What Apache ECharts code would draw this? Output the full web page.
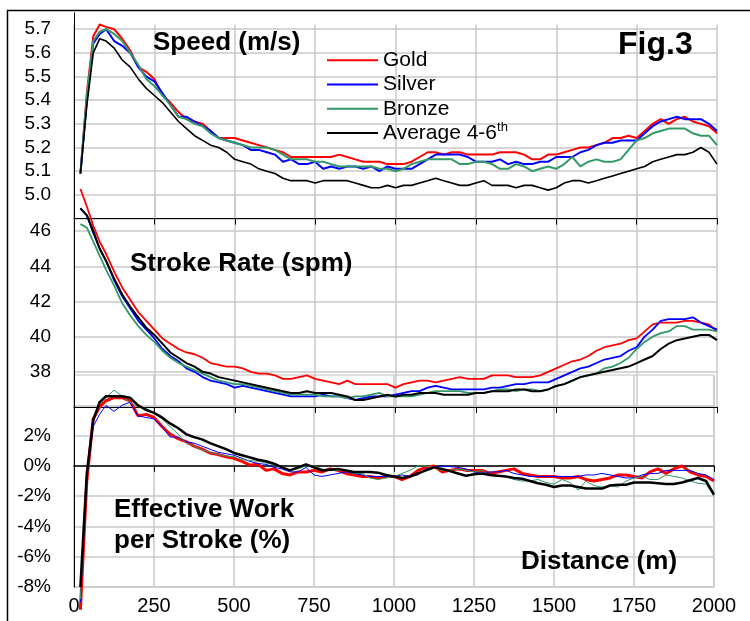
<!DOCTYPE html>
<html>
<head>
<meta charset="utf-8">
<title>Fig.3</title>
<script src="https://cdn.jsdelivr.net/npm/echarts@6/dist/echarts.min.js"></script>
<style>
  html, body { margin: 0; padding: 0; background: #fff; }
  #chart { width: 750px; height: 621px; }
</style>
</head>
<body>
<div id="chart"></div>
<script>
// distance along the race (m)
var distance = [
  20, 40, 60, 80, 100, 125, 150, 175, 200, 225,
  250, 275, 300, 325, 350, 375, 400, 425, 450, 475,
  500, 525, 550, 575, 600, 625, 650, 675, 700, 725,
  750, 775, 800, 825, 850, 875, 900, 925, 950, 975,
  1000, 1025, 1050, 1075, 1100, 1125, 1150, 1175, 1200, 1225,
  1250, 1275, 1300, 1325, 1350, 1375, 1400, 1425, 1450, 1475,
  1500, 1525, 1550, 1575, 1600, 1625, 1650, 1675, 1700, 1725,
  1750, 1775, 1800, 1825, 1850, 1875, 1900, 1925, 1950, 1975,
  2000
];

// speed (m/s)
var speedGold = [
  5.09, 5.43, 5.67, 5.72, 5.71, 5.70, 5.66, 5.61, 5.54, 5.52,
  5.49, 5.42, 5.39, 5.35, 5.32, 5.31, 5.30, 5.27, 5.24, 5.24,
  5.24, 5.23, 5.22, 5.21, 5.20, 5.19, 5.18, 5.16, 5.16, 5.16,
  5.16, 5.16, 5.16, 5.17, 5.16, 5.15, 5.14, 5.14, 5.14, 5.13,
  5.13, 5.13, 5.14, 5.16, 5.18, 5.18, 5.17, 5.18, 5.18, 5.17,
  5.17, 5.17, 5.17, 5.18, 5.18, 5.18, 5.17, 5.15, 5.15, 5.17,
  5.17, 5.18, 5.19, 5.20, 5.20, 5.21, 5.22, 5.24, 5.24, 5.25,
  5.24, 5.27, 5.30, 5.32, 5.30, 5.32, 5.33, 5.31, 5.30, 5.29,
  5.26
];
var speedSilver = [
  5.09, 5.40, 5.64, 5.68, 5.70, 5.65, 5.63, 5.60, 5.54, 5.50,
  5.48, 5.43, 5.38, 5.33, 5.33, 5.31, 5.29, 5.27, 5.24, 5.23,
  5.22, 5.21, 5.19, 5.19, 5.18, 5.17, 5.14, 5.15, 5.13, 5.13,
  5.14, 5.11, 5.12, 5.11, 5.12, 5.12, 5.11, 5.12, 5.10, 5.12,
  5.11, 5.11, 5.11, 5.13, 5.15, 5.17, 5.17, 5.17, 5.17, 5.16,
  5.14, 5.14, 5.14, 5.15, 5.13, 5.14, 5.13, 5.13, 5.14, 5.14,
  5.16, 5.16, 5.16, 5.18, 5.19, 5.21, 5.22, 5.22, 5.23, 5.23,
  5.23, 5.26, 5.29, 5.31, 5.32, 5.33, 5.32, 5.32, 5.32, 5.30,
  5.27
];
var speedBronze = [
  5.09, 5.42, 5.65, 5.69, 5.70, 5.68, 5.65, 5.60, 5.55, 5.49,
  5.46, 5.42, 5.38, 5.33, 5.32, 5.30, 5.29, 5.26, 5.24, 5.23,
  5.22, 5.21, 5.20, 5.20, 5.20, 5.19, 5.17, 5.15, 5.15, 5.15,
  5.14, 5.14, 5.13, 5.12, 5.12, 5.12, 5.12, 5.12, 5.11, 5.11,
  5.10, 5.11, 5.13, 5.14, 5.15, 5.15, 5.15, 5.15, 5.13, 5.13,
  5.14, 5.14, 5.13, 5.11, 5.11, 5.13, 5.12, 5.10, 5.11, 5.12,
  5.11, 5.13, 5.16, 5.12, 5.14, 5.15, 5.14, 5.14, 5.15, 5.19,
  5.23, 5.24, 5.26, 5.27, 5.28, 5.28, 5.28, 5.26, 5.25, 5.25,
  5.21
];
var speedAvg = [
  5.09, 5.38, 5.60, 5.66, 5.65, 5.62, 5.57, 5.54, 5.49, 5.45,
  5.42, 5.39, 5.35, 5.31, 5.28, 5.25, 5.23, 5.21, 5.20, 5.18,
  5.15, 5.14, 5.13, 5.11, 5.10, 5.09, 5.07, 5.06, 5.06, 5.06,
  5.05, 5.06, 5.06, 5.06, 5.06, 5.05, 5.04, 5.03, 5.03, 5.04,
  5.03, 5.04, 5.04, 5.05, 5.06, 5.07, 5.06, 5.05, 5.04, 5.04,
  5.05, 5.06, 5.04, 5.04, 5.04, 5.03, 5.04, 5.04, 5.03, 5.02,
  5.03, 5.05, 5.06, 5.06, 5.05, 5.06, 5.07, 5.08, 5.09, 5.10,
  5.11, 5.12, 5.14, 5.15, 5.16, 5.17, 5.17, 5.18, 5.20, 5.18,
  5.13
];

// stroke rate (spm)
var rateGold = [
  48.4, 47.4, 46.3, 45.4, 44.7, 43.7, 42.8, 42.1, 41.4, 40.9,
  40.4, 39.9, 39.6, 39.3, 39.1, 39.0, 38.8, 38.5, 38.4, 38.3,
  38.3, 38.2, 38.0, 37.9, 37.9, 37.8, 37.6, 37.6, 37.7, 37.8,
  37.6, 37.5, 37.4, 37.3, 37.5, 37.3, 37.3, 37.3, 37.3, 37.3,
  37.1, 37.3, 37.4, 37.5, 37.5, 37.4, 37.5, 37.6, 37.7, 37.6,
  37.6, 37.6, 37.8, 37.8, 37.8, 37.7, 37.7, 37.7, 37.8, 38.0,
  38.2, 38.4, 38.6, 38.7, 38.9, 39.2, 39.4, 39.5, 39.6, 39.8,
  39.9, 40.3, 40.7, 40.8, 40.8, 40.8, 40.9, 40.9, 40.8, 40.7,
  40.3
];
var rateSilver = [
  47.3, 46.9, 45.9, 45.0, 44.3, 43.2, 42.3, 41.6, 40.9, 40.4,
  39.9, 39.3, 38.9, 38.6, 38.2, 38.0, 37.7, 37.5, 37.4, 37.3,
  37.1, 37.2, 37.1, 37.0, 36.9, 36.8, 36.7, 36.6, 36.6, 36.6,
  36.6, 36.7, 36.6, 36.6, 36.5, 36.4, 36.5, 36.6, 36.6, 36.6,
  36.7, 36.8, 36.9, 36.9, 37.1, 37.2, 37.1, 37.0, 37.0, 37.0,
  37.0, 37.0, 37.1, 37.1, 37.2, 37.3, 37.3, 37.4, 37.4, 37.4,
  37.6, 37.8, 38.0, 38.2, 38.3, 38.5, 38.7, 38.8, 38.9, 39.2,
  39.4, 40.0, 40.4, 40.9, 41.0, 41.0, 41.0, 41.1, 40.8, 40.6,
  40.4
];
var rateBronze = [
  46.4, 46.2, 45.4, 44.6, 43.8, 42.9, 41.9, 41.2, 40.6, 40.1,
  39.7, 39.2, 38.8, 38.5, 38.3, 38.1, 37.9, 37.7, 37.5, 37.4,
  37.3, 37.3, 37.2, 37.1, 37.0, 36.9, 36.8, 36.7, 36.7, 36.7,
  36.7, 36.6, 36.6, 36.6, 36.5, 36.6, 36.6, 36.7, 36.8, 36.6,
  36.6, 36.6, 36.6, 36.7, 36.8, 36.9, 36.9, 36.9, 36.9, 36.8,
  36.8, 36.8, 36.9, 37.0, 37.0, 36.9, 37.0, 37.0, 36.9, 37.0,
  37.2, 37.3, 37.5, 37.7, 37.8, 37.9, 38.2, 38.3, 38.5, 38.8,
  39.3, 39.7, 40.0, 40.2, 40.3, 40.6, 40.6, 40.4, 40.4, 40.4,
  40.3
];
var rateAvg = [
  47.3, 46.9, 46.0, 45.0, 44.3, 43.3, 42.4, 41.7, 41.1, 40.5,
  40.1, 39.6, 39.1, 38.8, 38.5, 38.3, 38.0, 37.9, 37.7, 37.6,
  37.5, 37.4, 37.3, 37.2, 37.1, 37.0, 36.9, 36.8, 36.8, 36.9,
  36.8, 36.8, 36.8, 36.7, 36.6, 36.4, 36.4, 36.5, 36.6, 36.7,
  36.6, 36.7, 36.7, 36.8, 36.8, 36.8, 36.7, 36.7, 36.7, 36.7,
  36.8, 36.8, 36.9, 36.9, 36.9, 37.0, 37.0, 36.9, 36.9, 37.0,
  37.2, 37.3, 37.5, 37.7, 37.8, 37.9, 38.0, 38.1, 38.2, 38.3,
  38.5, 38.7, 38.9, 39.3, 39.6, 39.8, 39.9, 40.0, 40.1, 40.1,
  39.8
];

// effective work per stroke (%)
var workGold = [
  -9.5, -1.0, 3.1, 3.9, 4.3, 4.5, 4.5, 4.3, 3.3, 3.4,
  3.2, 2.6, 2.1, 1.8, 1.6, 1.3, 1.1, 0.85, 0.75, 0.6,
  0.5, 0.3, 0.05, 0.1, -0.3, -0.2, -0.5, -0.6, -0.4, -0.4,
  -0.3, -0.4, -0.2, -0.3, -0.5, -0.6, -0.7, -0.7, -0.8, -0.7,
  -0.7, -0.9, -0.7, -0.3, -0.1, 0, -0.4, -0.3, -0.2, -0.3,
  -0.3, -0.3, -0.5, -0.4, -0.3, -0.2, -0.5, -0.6, -0.7, -0.7,
  -0.7, -0.8, -0.8, -0.7, -0.9, -1.0, -0.9, -0.8, -0.6, -0.6,
  -0.7, -0.8, -0.4, -0.2, -0.5, -0.2, 0, -0.4, -0.6, -0.7,
  -1.0
];
var workSilver = [
  -9.0, -0.8, 2.6, 3.4, 4.0, 3.6, 4.0, 4.2, 3.3, 3.2,
  3.1, 2.6, 1.9, 1.9, 1.6, 1.5, 1.3, 1.1, 0.9, 0.8,
  0.7, 0.5, 0.3, 0.15, 0.1, -0.1, -0.2, -0.4, -0.4, -0.1,
  -0.6, -0.7, -0.6, -0.5, -0.4, -0.5, -0.6, -0.7, -0.7, -0.7,
  -0.7, -0.6, -0.7, -0.6, -0.2, -0.1, 0, -0.05, -0.1, -0.2,
  -0.4, -0.5, -0.4, -0.4, -0.3, -0.5, -0.6, -0.7, -0.7, -0.7,
  -0.7, -0.7, -0.7, -0.7, -0.6, -0.6, -0.5, -0.6, -0.7, -0.8,
  -0.8, -0.6, -0.5, -0.5, -0.3, -0.3, -0.3, -0.3, -0.5, -0.6,
  -0.9
];
var workBronze = [
  -8.8, -0.6, 3.0, 4.1, 4.5, 5.0, 4.6, 4.2, 3.9, 3.8,
  3.5, 3.1, 2.6, 2.1, 1.5, 1.3, 1.05, 0.9, 0.75, 0.65,
  0.6, 0.4, 0.35, 0.3, 0.2, 0.05, -0.1, -0.3, -0.2, 0,
  0, -0.2, -0.3, -0.3, -0.3, -0.5, -0.5, -0.8, -0.9, -0.8,
  -0.7, -0.5, -0.3, 0, 0, -0.1, -0.3, -0.3, -0.2, -0.3,
  -0.4, -0.3, -0.6, -0.7, -0.7, -0.9, -1.0, -1.0, -0.9, -1.1,
  -1.2, -0.9, -1.1, -1.6, -1.0, -1.3, -1.4, -1.3, -1.4, -1.0,
  -0.8, -0.7, -0.9, -0.9, -0.6, -0.7, -0.8, -1.0, -1.15, -1.2,
  -2.0
];
var workAvg = [
  -8.0, -0.5, 3.0, 4.2, 4.6, 4.6, 4.6, 4.5, 4.0, 3.7,
  3.5, 3.2, 2.8, 2.5, 2.1, 1.9, 1.75, 1.5, 1.3, 1.1,
  0.85, 0.7, 0.55, 0.4, 0.3, 0.15, -0.1, -0.3, -0.1, 0.1,
  -0.1, -0.3, -0.25, -0.2, -0.3, -0.4, -0.4, -0.4, -0.45, -0.6,
  -0.7, -0.8, -0.7, -0.5, -0.3, -0.1, -0.2, -0.35, -0.5, -0.65,
  -0.55, -0.5, -0.6, -0.65, -0.7, -0.8, -0.85, -1.0, -1.15, -1.25,
  -1.4, -1.3, -1.3, -1.4, -1.5, -1.5, -1.5, -1.3, -1.25, -1.25,
  -1.1, -1.1, -1.1, -1.15, -1.2, -1.2, -1.1, -0.95, -0.8, -1.0,
  -1.9
];

var seriesNames = ['Gold', 'Silver', 'Bronze', 'Average 4-6th'];
var seriesColors = ['#ff0000', '#0000ff', '#339966', '#000000'];

var font = "'Liberation Sans', Arial, Helvetica, sans-serif";
var gridColor = '#c8c8c8';

function pairs(values) {
  return values.map(function (v, i) {
    return [distance[i], v];
  });
}

function line(k, values, panel, width) {
  return {
    name: seriesNames[k],
    type: 'line',
    xAxisIndex: panel,
    yAxisIndex: panel,
    data: pairs(values),
    symbol: 'none',
    clip: false,
    itemStyle: { color: seriesColors[k] },
    lineStyle: { color: seriesColors[k], width: width }
  };
}

function xAxisFor(grid, opts) {
  return Object.assign({
    type: 'value',
    gridIndex: grid,
    min: 0,
    max: 2000,
    interval: 250,
    axisLine: { show: true, onZero: false, lineStyle: { color: '#000', width: 1 } },
    axisTick: { show: true, length: 6, lineStyle: { color: '#000' } },
    axisLabel: { show: false },
    splitLine: { show: true, lineStyle: { color: gridColor, width: 1.5 } }
  }, opts);
}

function yAxisFor(grid, min, max, interval, fmt) {
  return {
    type: 'value',
    gridIndex: grid,
    min: min,
    max: max,
    interval: interval,
    axisLine: { show: true, lineStyle: { color: '#000', width: 1 } },
    axisTick: { show: false },
    axisLabel: { color: '#000', fontSize: 19, fontFamily: font, margin: 23, formatter: fmt },
    splitLine: { show: true, showMaxLine: false, lineStyle: { color: gridColor, width: 1.5 } }
  };
}

function title(text, x, y, size) {
  return {
    type: 'text',
    x: x,
    y: y,
    z: 50,
    style: {
      text: text,
      font: 'bold ' + size + 'px ' + font,
      fill: '#000',
      verticalAlign: 'middle'
    }
  };
}

var chart = echarts.init(document.getElementById('chart'));
chart.setOption({
  animation: false,
  backgroundColor: '#fff',
  grid: [
    { left: 74, top: 24.5, width: 643, height: 194 },
    { left: 74, top: 196, width: 643, height: 211 },
    { left: 74, top: 375, width: 640, height: 212, show: true, borderColor: '#c0c0c0', borderWidth: 1 }
  ],
  xAxis: [
    xAxisFor(0),
    xAxisFor(1),
    xAxisFor(2, {
      axisLine: { show: false, onZero: false },
      axisTick: { show: false },
      axisLabel: {
        show: true, color: '#000', fontSize: 20, fontFamily: font, margin: 9,
        formatter: function (v) { return String(v); }
      }
    }),
    xAxisFor(2, {
      position: 'bottom',
      axisLine: { show: true, onZero: true, lineStyle: { color: '#000', width: 1.5 } },
      splitLine: { show: false }
    })
  ],
  yAxis: [
    yAxisFor(0, 4.9, 5.72, 0.1, function (v) {
      return v > 4.95 && v < 5.71 ? v.toFixed(1) : '';
    }),
    yAxisFor(1, 36, 48, 2, function (v) {
      return v >= 38 && v <= 46 ? String(v) : '';
    }),
    yAxisFor(2, -8, 6, 2, function (v) {
      return v <= 2 ? v + '%' : '';
    })
  ],
  legend: {
    data: seriesNames,
    orient: 'vertical',
    left: 327,
    top: 48,
    padding: 0,
    itemGap: 0,
    itemWidth: 51,
    itemHeight: 2,
    icon: 'rect',
    selectedMode: false,
    formatter: function (name) {
      return name === 'Average 4-6th' ? '{a|Average 4-6}{s|th}' : name;
    },
    textStyle: {
      color: '#000',
      fontSize: 21,
      fontFamily: font,
      lineHeight: 24.3,
      rich: {
        a: { fontSize: 21, fontFamily: font, color: '#000', lineHeight: 24.3 },
        s: { fontSize: 13, fontFamily: font, color: '#000', verticalAlign: 'top', lineHeight: 14 }
      }
    }
  },
  graphic: [
    {
      type: 'rect',
      shape: { x: 7.5, y: 10.5, width: 800, height: 700 },
      style: { fill: 'none', stroke: '#000', lineWidth: 1.5 },
      silent: true
    },
    {
      type: 'line',
      shape: { x1: 74.5, y1: 12.5, x2: 74.5, y2: 25 },
      style: { stroke: '#000', lineWidth: 1 },
      silent: true
    },
    title('Speed (m/s)', 153, 43, 26),
    title('Fig.3', 618, 45, 32),
    title('Stroke Rate (spm)', 130, 264, 26),
    title('Effective Work', 114, 510, 26),
    title('per Stroke (%)', 114, 541, 26),
    title('Distance (m)', 521, 562, 26)
  ],
  series: [
    line(0, speedGold, 0, 2),
    line(1, speedSilver, 0, 2),
    line(2, speedBronze, 0, 2),
    line(3, speedAvg, 0, 1.6),

    line(0, rateGold, 1, 1.8),
    line(1, rateSilver, 1, 1.8),
    line(2, rateBronze, 1, 1.8),
    line(3, rateAvg, 1, 2),

    line(0, workGold, 2, 3),
    line(1, workSilver, 2, 1),
    line(2, workBronze, 2, 1),
    line(3, workAvg, 2, 2.5)
  ]
});
</script>
</body>
</html>
